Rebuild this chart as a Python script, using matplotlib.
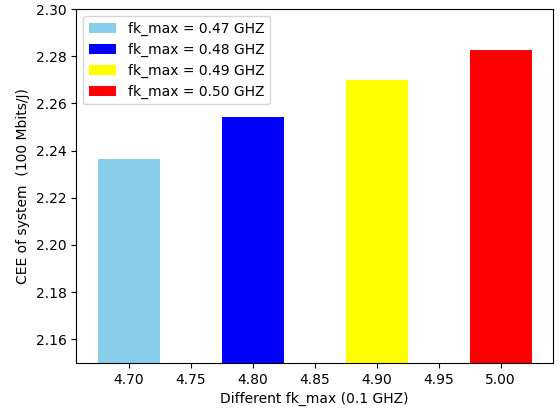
import matplotlib
matplotlib.use("Agg")
import matplotlib.pyplot as plt

x = [4.7, 4.8, 4.9, 5.0]
cee = [2.2363, 2.2543, 2.2698, 2.2826]
colors = ["skyblue", "blue", "yellow", "red"]
labels = ["fk_max = 0.47 GHZ", "fk_max = 0.48 GHZ",
          "fk_max = 0.49 GHZ", "fk_max = 0.50 GHZ"]

fig = plt.figure(figsize=(5.6, 4.11), dpi=100)
ax = fig.add_axes([0.136, 0.117, 0.852, 0.861])
for xi, yi, c, lab in zip(x, cee, colors, labels):
    ax.bar(xi, yi, width=0.05, color=c, label=lab)
ax.set_ylim(2.15, 2.30)
ax.set_xlabel("Different fk_max (0.1 GHZ)")
ax.set_ylabel("CEE of system  (100 Mbits/J)")
ax.legend(loc="upper left")
fig.savefig("out.png")
